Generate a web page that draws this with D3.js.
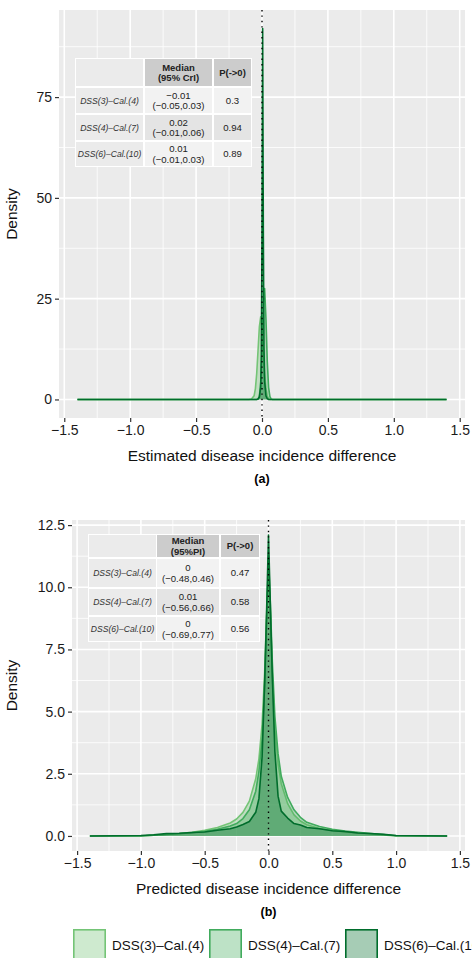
<!DOCTYPE html>
<html>
<head>
<meta charset="utf-8">
<script src="https://d3js.org/d3.v7.min.js"></script>
<style>
body { margin: 0; background: #fff; }
svg text { font-family: "Liberation Sans", Arial, Helvetica, sans-serif; }
</style>
</head>
<body>
<script>
// ---- data ----
var seriesNames = ["DSS(3)\u2013Cal.(4)", "DSS(4)\u2013Cal.(7)", "DSS(6)\u2013Cal.(10)"];
var seriesColors = ["#74c476", "#41ab5d", "#006d2c"];

// panel (a): estimated disease incidence difference
var xA = [-1.4, -0.1, -0.08, -0.06, -0.05, -0.04, -0.03, -0.02, -0.01, -0.005, 0, 0.005, 0.01, 0.015, 0.02, 0.03, 0.04, 0.05, 0.06, 0.07, 0.08, 0.1, 1.4];
var a3 = [0, 0, 0.1, 0.9, 2.7, 6.5, 12.2, 18, 20.5, 20, 18, 15.5, 12, 9, 6.2, 2.6, 0.8, 0.2, 0, 0, 0, 0, 0];
var a4 = [0, 0, 0, 0, 0, 0, 0.1, 0.8, 4.2, 7.8, 12.5, 18.5, 24, 26.8, 27.5, 20, 9.5, 3, 0.7, 0.1, 0, 0, 0];
var a6 = [0, 0, 0, 0, 0, 0, 0.1, 0.6, 3, 11, 40, 92, 42, 13, 4.5, 0.9, 0.2, 0, 0, 0, 0, 0, 0];

// panel (b): predicted disease incidence difference
var xB = [-1.4, -1.0, -0.9, -0.8, -0.7, -0.6, -0.5, -0.4, -0.3, -0.25, -0.2, -0.15, -0.1, -0.075, -0.05, -0.03, -0.015, 0, 0.015, 0.03, 0.05, 0.075, 0.1, 0.15, 0.2, 0.25, 0.3, 0.4, 0.5, 0.6, 0.7, 0.8, 0.9, 1.0, 1.4];
var b3 = [0, 0, 0.03, 0.07, 0.1, 0.15, 0.23, 0.34, 0.52, 0.68, 0.95, 1.4, 2.3, 3.1, 4.5, 6.6, 8.9, 10.6, 8.9, 6.5, 4.3, 2.9, 2.1, 1.3, 0.85, 0.6, 0.45, 0.3, 0.22, 0.16, 0.12, 0.08, 0.04, 0, 0];
var b4 = [0, 0, 0.03, 0.06, 0.09, 0.13, 0.19, 0.27, 0.4, 0.5, 0.7, 1.05, 1.8, 2.6, 3.9, 6.1, 8.6, 11.2, 9.3, 7.0, 4.8, 3.3, 2.4, 1.55, 1.05, 0.75, 0.55, 0.38, 0.27, 0.2, 0.15, 0.1, 0.06, 0.01, 0];
var b6 = [0, 0.02, 0.05, 0.1, 0.11, 0.14, 0.16, 0.23, 0.29, 0.36, 0.46, 0.58, 0.95, 1.5, 3.2, 6.2, 9.0, 12.1, 9.2, 6.4, 3.4, 1.6, 1.0, 0.72, 0.5, 0.44, 0.34, 0.29, 0.21, 0.18, 0.12, 0.1, 0.07, 0.02, 0];

// tick values and labels
var xTicks = [-1.5, -1.0, -0.5, 0, 0.5, 1.0, 1.5];
var xMinor = [-1.25, -0.75, -0.25, 0.25, 0.75, 1.25];
var yTicksA = [0, 25, 50, 75];
var yMinorA = [12.5, 37.5, 62.5, 87.5];
var yTicksB = [0, 2.5, 5, 7.5, 10, 12.5];
var yMinorB = [1.25, 3.75, 6.25, 8.75, 11.25];

// summary tables
var medianA = [["\u22120.01", "(\u22120.05,0.03)"], ["0.02", "(\u22120.01,0.06)"], ["0.01", "(\u22120.01,0.03)"]];
var probA = ["0.3", "0.94", "0.89"];
var medianB = [["0", "(\u22120.48,0.46)"], ["0.01", "(\u22120.56,0.66)"], ["0", "(\u22120.69,0.77)"]];
var probB = ["0.47", "0.58", "0.56"];

// ---- drawing ----
var W = 472, H = 958;
var svg = d3.select("body").append("svg").attr("width", W).attr("height", H);

var fmtX = function (d) { return d3.format(".1f")(d).replace("-", "\u2212"); };

function drawPanel(o) {
  var x = d3.scaleLinear().domain([-1.54, 1.54]).range([o.left, o.right]);
  var y = d3.scaleLinear().domain(o.yDom).range([o.bottom, o.top]);
  var g = svg.append("g");

  g.append("rect").attr("x", o.left).attr("y", o.top)
    .attr("width", o.right - o.left).attr("height", o.bottom - o.top).attr("fill", "#ebebeb");

  g.selectAll(".ymin").data(o.yMinor).enter().append("line")
    .attr("x1", o.left).attr("x2", o.right).attr("y1", y).attr("y2", y)
    .attr("stroke", "#fff").attr("stroke-width", 0.8);
  g.selectAll(".xmin").data(xMinor).enter().append("line")
    .attr("y1", o.top).attr("y2", o.bottom).attr("x1", x).attr("x2", x)
    .attr("stroke", "#fff").attr("stroke-width", 0.8);
  g.selectAll(".ymaj").data(o.yTicks).enter().append("line")
    .attr("x1", o.left).attr("x2", o.right).attr("y1", y).attr("y2", y)
    .attr("stroke", "#fff").attr("stroke-width", 1.6);
  g.selectAll(".xmaj").data(xTicks).enter().append("line")
    .attr("y1", o.top).attr("y2", o.bottom).attr("x1", x).attr("x2", x)
    .attr("stroke", "#fff").attr("stroke-width", 1.6);

  // densities
  var area = d3.area().x(function (d) { return x(d[0]); }).y0(y(0)).y1(function (d) { return y(d[1]); });
  var line = d3.line().x(function (d) { return x(d[0]); }).y(function (d) { return y(d[1]); });
  o.series.forEach(function (s, i) {
    var pts = o.xs.map(function (v, j) { return [v, s[j]]; });
    g.append("path").datum(pts).attr("d", area).attr("fill", seriesColors[i]).attr("fill-opacity", 0.35);
    g.append("path").datum(pts).attr("d", line).attr("fill", "none")
      .attr("stroke", seriesColors[i]).attr("stroke-width", 1.6).attr("stroke-linejoin", "round");
  });

  // reference line at zero
  g.append("line").attr("x1", x(0)).attr("x2", x(0)).attr("y1", o.top).attr("y2", o.bottom)
    .attr("stroke", "#000").attr("stroke-width", 1.4).attr("stroke-dasharray", "1.4,4");

  drawTable(g, o.table);

  // axes
  var xAxis = d3.axisBottom(x).tickValues(xTicks).tickFormat(fmtX).tickSize(4).tickPadding(3);
  var ax = g.append("g").attr("transform", "translate(0," + o.bottom + ")").call(xAxis);
  var yAxis = d3.axisLeft(y).tickValues(o.yTicks).tickFormat(o.yFmt).tickSize(4).tickPadding(3);
  var ay = g.append("g").attr("transform", "translate(" + o.left + ",0)").call(yAxis);
  [ax, ay].forEach(function (a) {
    a.select(".domain").remove();
    a.selectAll(".tick line").attr("stroke", "#333").attr("stroke-width", 1.2);
    a.selectAll(".tick text").attr("fill", "#1a1a1a").style("font-size", "14px");
  });

  g.append("text").attr("x", (o.left + o.right) / 2).attr("y", o.bottom + 43)
    .attr("text-anchor", "middle").style("font-size", "15.5px").attr("fill", "#111").text(o.xTitle);
  g.append("text").attr("transform", "translate(17," + ((o.top + o.bottom) / 2) + ") rotate(-90)")
    .attr("text-anchor", "middle").style("font-size", "15.5px").attr("fill", "#111").text("Density");
  g.append("text").attr("x", (o.left + o.right) / 2).attr("y", o.bottom + 65)
    .attr("text-anchor", "middle").style("font-size", "12.5px").style("font-weight", "bold").text(o.tag);
}

function drawTable(g, t) {
  var c = t.cols, r = t.rows;
  g.append("rect").attr("x", c[0][0] - 1).attr("y", r[0][0] - 1)
    .attr("width", c[2][1] - c[0][0] + 2).attr("height", r[3][1] - r[0][0] + 2).attr("fill", "#fff");
  function cell(ci, ri, fill) {
    g.append("rect").attr("x", c[ci][0]).attr("y", r[ri][0])
      .attr("width", c[ci][1] - c[ci][0]).attr("height", r[ri][1] - r[ri][0]).attr("fill", fill);
  }
  function txt(ci, ri, lines, style) {
    var cx = (c[ci][0] + c[ci][1]) / 2, cy = (r[ri][0] + r[ri][1]) / 2;
    var lh = 10.5;
    lines.forEach(function (s, k) {
      g.append("text").attr("x", cx).attr("y", cy + (k - (lines.length - 1) / 2) * lh + 3.4)
        .attr("text-anchor", "middle").style("font-size", style.size + "px")
        .style("font-weight", style.bold ? "bold" : "normal")
        .style("font-style", style.italic ? "italic" : "normal")
        .attr("fill", style.color || "#222").text(s);
    });
  }
  cell(0, 0, "#ebebeb"); cell(1, 0, "#cccccc"); cell(2, 0, "#cccccc");
  txt(1, 0, t.head, { size: 9.5, bold: true });
  txt(2, 0, ["P(->0)"], { size: 9.5, bold: true });
  for (var i = 0; i < 3; i++) {
    var f = i === 1 ? "#e4e4e4" : "#f2f2f2";
    cell(0, i + 1, "#ebebeb"); cell(1, i + 1, f); cell(2, i + 1, f);
    txt(0, i + 1, [seriesNames[i]], { size: 8.6, italic: true, color: "#333" });
    txt(1, i + 1, t.med[i], { size: 9.6 });
    txt(2, i + 1, [t.p[i]], { size: 9.6 });
  }
}

drawPanel({
  left: 59, right: 465, top: 10, bottom: 418,
  yDom: [-4.6, 96.6], yTicks: yTicksA, yMinor: yMinorA, yFmt: d3.format("d"),
  xs: xA, series: [a3, a4, a6],
  xTitle: "Estimated disease incidence difference", tag: "(a)",
  table: {
    cols: [[76, 143], [145, 212], [214, 251]],
    rows: [[59, 86], [88, 113], [115, 140], [142, 166]],
    head: ["Median", "(95% CrI)"], med: medianA, p: probA
  }
});

drawPanel({
  left: 72, right: 465, top: 520, bottom: 851,
  yDom: [-0.605, 12.705], yTicks: yTicksB, yMinor: yMinorB, yFmt: d3.format(".1f"),
  xs: xB, series: [b3, b4, b6],
  xTitle: "Predicted disease incidence difference", tag: "(b)",
  table: {
    cols: [[89, 156], [157, 219], [221, 259]],
    rows: [[535, 557], [559, 587], [589, 615], [617, 641]],
    head: ["Median", "(95%PI)"], med: medianB, p: probB
  }
});

// legend
var legX = [73, 209, 345];
var leg = svg.append("g");
seriesNames.forEach(function (n, i) {
  leg.append("rect").attr("x", legX[i] + 0.8).attr("y", 929.8).attr("width", 31.4).attr("height", 32)
    .attr("fill", "#fff");
  leg.append("rect").attr("x", legX[i] + 0.8).attr("y", 929.8).attr("width", 31.4).attr("height", 32)
    .attr("fill", seriesColors[i]).attr("fill-opacity", 0.35)
    .attr("stroke", seriesColors[i]).attr("stroke-width", 1.6);
  leg.append("text").attr("x", legX[i] + 39).attr("y", 950).style("font-size", "13.5px")
    .attr("fill", "#111").text(n);
});
</script>
</body>
</html>
